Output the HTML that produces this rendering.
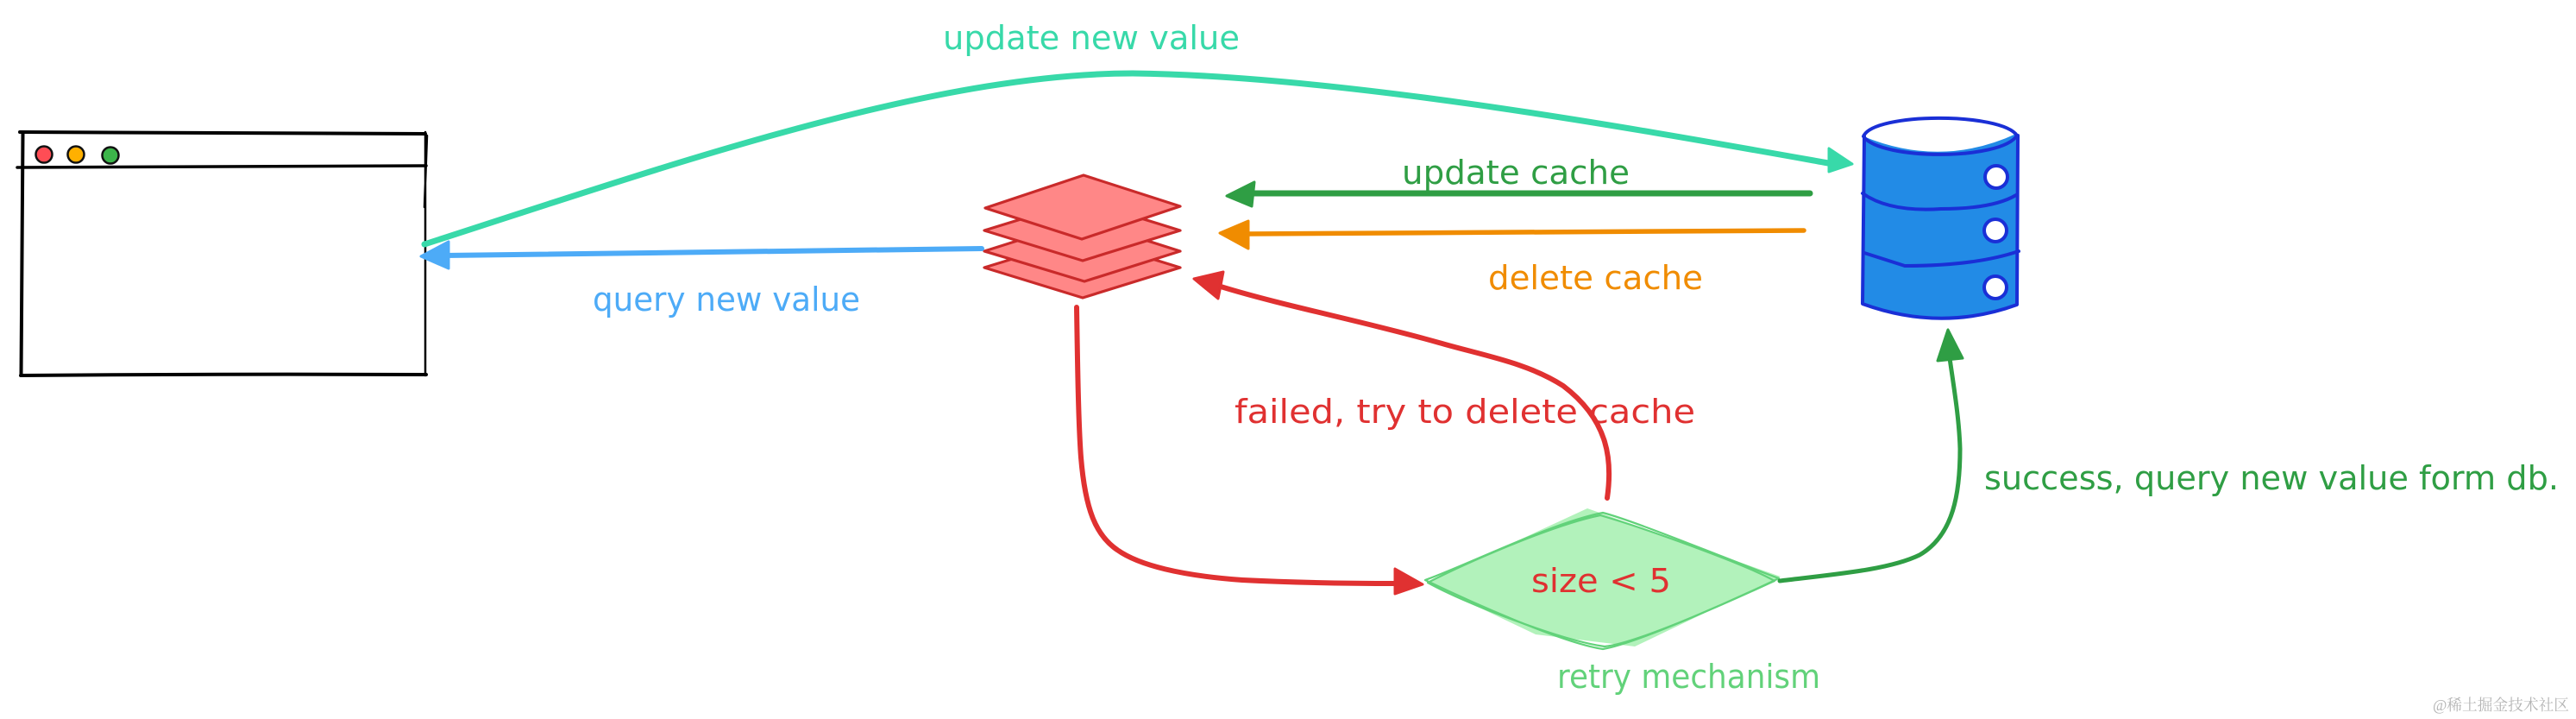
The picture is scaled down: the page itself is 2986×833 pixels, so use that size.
<!DOCTYPE html>
<html><head><meta charset="utf-8"><style>
html,body{margin:0;padding:0;background:#fff;width:2986px;height:833px;overflow:hidden}
svg{display:block}
text{font-family:"DejaVu Sans","Liberation Sans","Noto Sans CJK SC",sans-serif;font-size:38px}
</style></head><body>
<svg width="2986" height="833" viewBox="0 0 2986 833" xmlns="http://www.w3.org/2000/svg">
<rect width="2986" height="833" fill="#fff"/>
<!-- browser window -->
<g fill="none" stroke="#000" stroke-linecap="round">
<path d="M23 153Q250 153 493 155" stroke-width="4"/>
<path d="M27 154L25 435M26 154L24 434" stroke-width="3"/>
<path d="M493 153L493 435M495 157L492 240" stroke-width="2.5"/>
<path d="M24 435Q250 433 494 434" stroke-width="4"/>
<path d="M20 194Q260 194 494 192" stroke-width="3.5"/>
</g>
<g stroke="#111" stroke-width="2.5">
<circle cx="51" cy="179" r="9.5" fill="#ff4d55"/>
<circle cx="88" cy="179" r="9.5" fill="#ffb000"/>
<circle cx="128" cy="180" r="9.5" fill="#3cb54a"/>
</g>
<!-- cache stack -->
<g fill="#ff8787" stroke="#c92a2a" stroke-width="3.2" stroke-linejoin="round">
<path d="M1141 310L1255 345L1368 310L1255 275Z"/>
<path d="M1141 291L1257 326L1368 291L1255 255Z"/>
<path d="M1141 267L1255 302L1368 267L1255 232Z"/>
<path d="M1142 241L1254 277L1368 239L1256 203Z"/>
</g>
<!-- database -->
<path d="M2160 158L2159 352Q2250 385 2337 352L2337 155Q2250 195 2160 158Z" fill="#228be6"/>
<g fill="none" stroke="#1a2fd6" stroke-width="4" stroke-linecap="round" stroke-linejoin="round">
<path d="M2160 158C2172 130 2320 130 2338 157C2320 186 2180 186 2160 158Z"/>
<path d="M2161 158L2159 352Q2250 385 2338 353L2339 157"/>
<path d="M2159 224Q2190 246 2250 242Q2310 242 2337 226"/>
<path d="M2161 293L2208 308Q2290 308 2340 291"/>
</g>
<g fill="#fff" stroke="#1a2fd6" stroke-width="4">
<circle cx="2314" cy="205" r="13"/>
<circle cx="2313" cy="267" r="13"/>
<circle cx="2313" cy="333" r="13"/>
</g>
<!-- decision diamond -->
<path d="M1654 675L1840 589L2064 668L1895 749L1780 735Z" fill="#b2f2bb"/>
<g fill="none" stroke="#62d27a" stroke-width="2.2" stroke-linejoin="round">
<path d="M1652 672C1700 655 1800 605 1858 594C1900 605 2020 655 2062 670C2020 690 1900 745 1858 752C1810 745 1700 695 1652 672Z"/>
<path d="M1655 675C1700 652 1800 608 1855 597C1900 610 2020 652 2057 673C2020 690 1900 745 1860 749C1810 742 1700 700 1655 675Z"/>
</g>
<!-- connectors -->
<g fill="none" stroke-linecap="round" stroke-linejoin="round">
<path d="M492 283C780 190 1080 85 1313 85C1560 88 1900 150 2125 190" stroke="#38d9a9" stroke-width="7"/>
<path d="M1138 288L515 296" stroke="#4dabf7" stroke-width="6"/>
<path d="M2098 224L1450 224" stroke="#2f9e44" stroke-width="7"/>
<path d="M2091 267L1445 271" stroke="#f08c00" stroke-width="5.5"/>
<path d="M1248 356C1249 420 1250 490 1253 530C1258 590 1270 620 1295 637C1320 655 1370 667 1440 672C1500 675 1560 676 1620 676" stroke="#e03131" stroke-width="6"/>
<path d="M1863 577C1869 535 1866 488 1812 447C1770 420 1720 412 1668 397C1580 372 1490 355 1415 332" stroke="#e03131" stroke-width="6"/>
<path d="M2063 673C2130 665 2190 660 2225 643C2265 620 2272 570 2272 520C2271 485 2265 450 2260 415" stroke="#2f9e44" stroke-width="5"/>
</g>
<!-- arrowheads -->
<g stroke-linejoin="round" stroke-width="3">
<path d="M2147 190L2120 172L2120 199Z" fill="#38d9a9" stroke="#38d9a9"/>
<path d="M488 297L520 280L520 311Z" fill="#4dabf7" stroke="#4dabf7"/>
<path d="M1422 227L1454 211L1451 239Z" fill="#2f9e44" stroke="#2f9e44"/>
<path d="M1414 270L1447 256L1447 288Z" fill="#f08c00" stroke="#f08c00"/>
<path d="M1649 677L1617 659L1617 688Z" fill="#e03131" stroke="#e03131"/>
<path d="M1384 323L1418 315L1412 346Z" fill="#e03131" stroke="#e03131"/>
<path d="M2258 382L2246 418L2275 415Z" fill="#2f9e44" stroke="#2f9e44"/>
</g>
<!-- labels -->
<text x="1093" y="57" fill="#38d9a9" textLength="344" lengthAdjust="spacingAndGlyphs">update new value</text>
<text x="1625" y="213" fill="#2f9e44" textLength="264" lengthAdjust="spacingAndGlyphs">update cache</text>
<text x="1725" y="335" fill="#f08c00" textLength="249" lengthAdjust="spacingAndGlyphs">delete cache</text>
<text x="687" y="360" fill="#4dabf7" textLength="310" lengthAdjust="spacingAndGlyphs">query new value</text>
<text x="1431" y="490" fill="#e03131" textLength="534" lengthAdjust="spacingAndGlyphs">failed, try to delete cache</text>
<text x="2300" y="567" fill="#2f9e44" textLength="666" lengthAdjust="spacingAndGlyphs">success, query new value form db.</text>
<text x="1775" y="686" fill="#e03131" textLength="162" lengthAdjust="spacingAndGlyphs">size &lt; 5</text>
<text x="1805" y="797" fill="#62d27a" textLength="305" lengthAdjust="spacingAndGlyphs">retry mechanism</text>
<text x="2820" y="823" fill="#b5b5b5" style="font-family:'Liberation Serif','Noto Serif CJK SC',serif;font-size:18px" textLength="158" lengthAdjust="spacingAndGlyphs">@稀土掘金技术社区</text>
</svg>
</body></html>
